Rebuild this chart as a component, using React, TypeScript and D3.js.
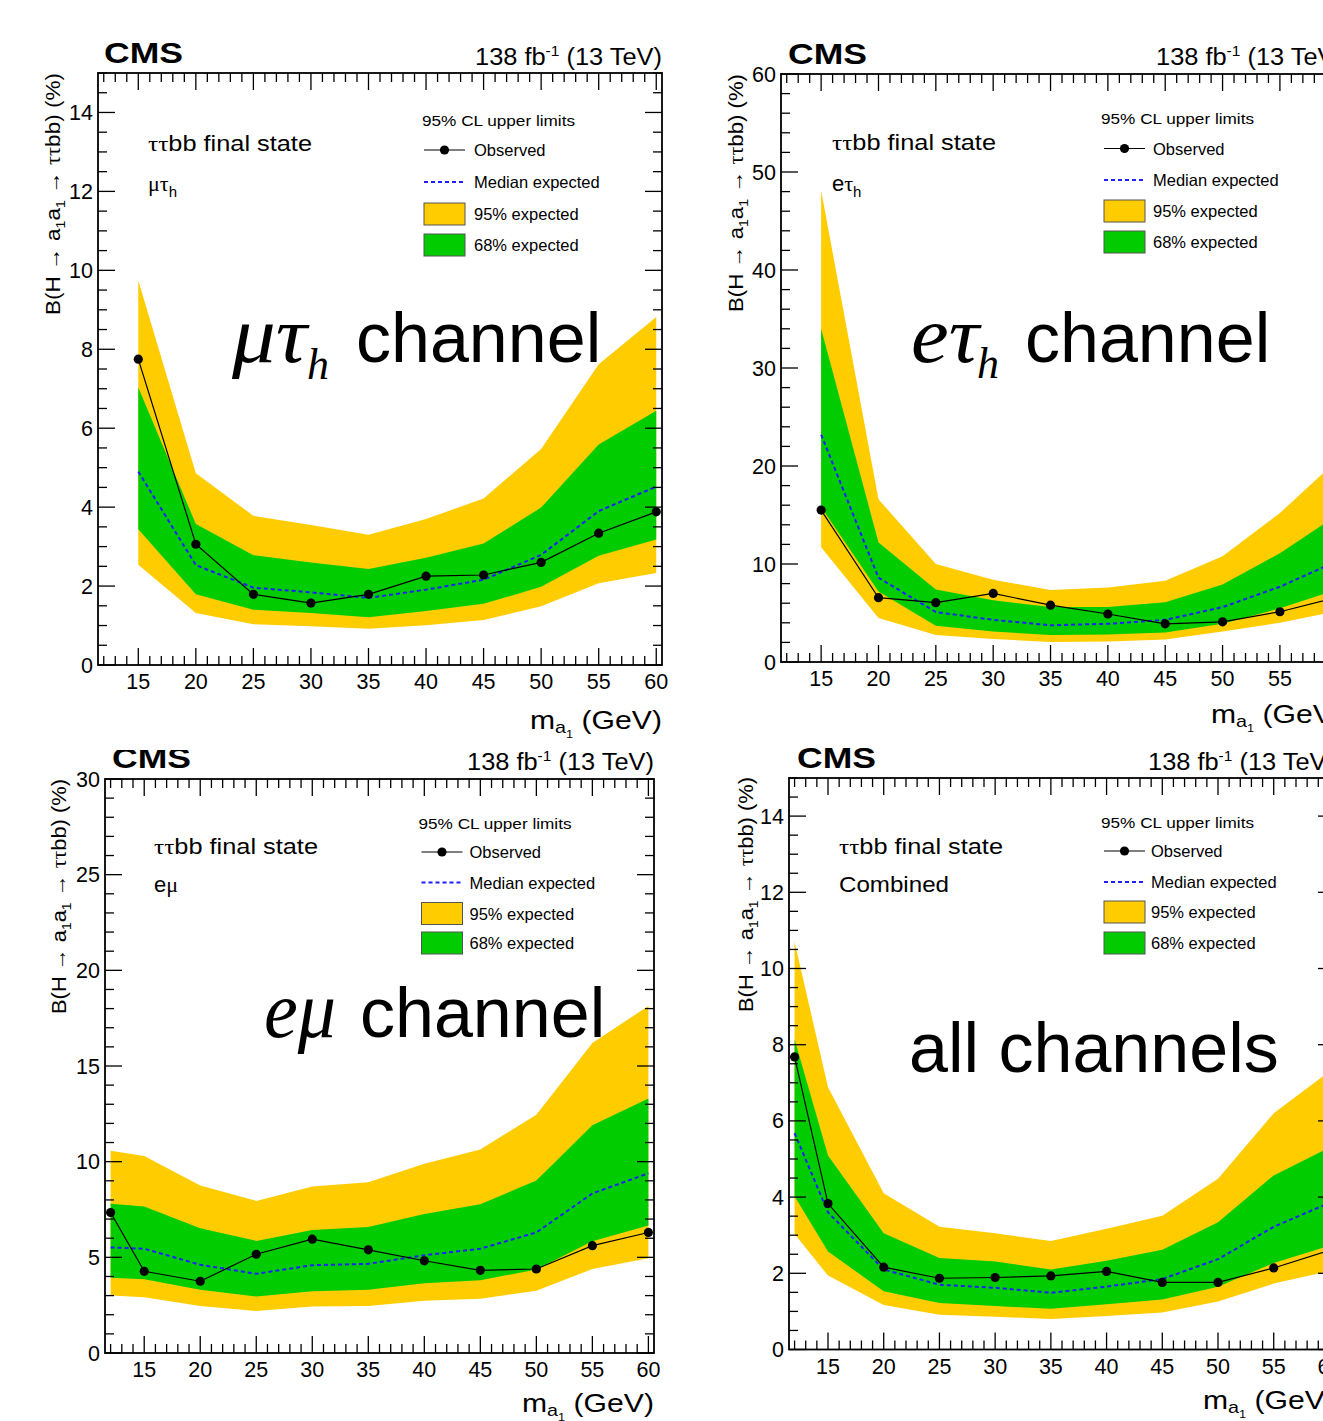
import * as d3 from "d3";
import React from "react";

// mass points (GeV)
const massTauH = [15, 20, 25, 30, 35, 40, 45, 50, 55, 60];
const massLow = [12, 15, 20, 25, 30, 35, 40, 45, 50, 55, 60];

// mu tau_h channel, B (%)
const mtObs = [7.75, 3.06, 1.79, 1.57, 1.79, 2.25, 2.28, 2.6, 3.34, 3.88];
const mtExp = [4.9, 2.53, 1.96, 1.84, 1.7, 1.91, 2.16, 2.79, 3.9, 4.52];
const mt68Lo = [3.44, 1.79, 1.4, 1.32, 1.21, 1.37, 1.55, 1.98, 2.77, 3.18];
const mt68Hi = [7.03, 3.57, 2.78, 2.6, 2.43, 2.72, 3.08, 3.99, 5.59, 6.44];
const mt95Lo = [2.54, 1.32, 1.03, 0.98, 0.92, 1.01, 1.14, 1.49, 2.07, 2.33];
const mt95Hi = [9.74, 4.86, 3.78, 3.55, 3.3, 3.7, 4.22, 5.47, 7.62, 8.82];

// e tau_h channel
const etObs = [15.5, 6.56, 6.05, 7.0, 5.8, 4.9, 3.9, 4.1, 5.13, 6.6];
const etExp = [23.2, 8.6, 5.1, 4.3, 3.75, 3.9, 4.3, 5.6, 7.68, 10.3];
const et68Lo = [15.8, 7.2, 3.7, 3.1, 2.75, 2.8, 3.0, 3.9, 5.48, 7.4];
const et68Hi = [34.0, 12.2, 7.4, 6.3, 5.6, 5.6, 6.1, 7.9, 11.1, 15.0];
const et95Lo = [11.7, 4.5, 2.75, 2.35, 2.05, 2.1, 2.3, 3.1, 4.0, 5.2];
const et95Hi = [48.1, 16.6, 10.0, 8.4, 7.35, 7.6, 8.3, 10.8, 15.2, 20.6];

// e mu channel
const emObs = [7.34, 4.27, 3.75, 5.16, 5.95, 5.39, 4.82, 4.32, 4.39, 5.61, 6.3];
const emExp = [5.52, 5.45, 4.61, 4.14, 4.59, 4.66, 5.11, 5.45, 6.3, 8.34, 9.39];
const em68Lo = [3.93, 3.86, 3.3, 2.95, 3.23, 3.3, 3.64, 3.8, 4.36, 5.84, 6.66];
const em68Hi = [7.8, 7.66, 6.52, 5.86, 6.43, 6.59, 7.27, 7.77, 9.02, 11.9, 13.3];
const em95Lo = [3.0, 2.91, 2.45, 2.2, 2.43, 2.45, 2.73, 2.84, 3.25, 4.39, 4.95];
const em95Hi = [10.57, 10.3, 8.75, 7.95, 8.7, 8.93, 9.89, 10.64, 12.45, 16.2, 18.14];

// combined
const cbObs = [7.68, 3.83, 2.16, 1.87, 1.89, 1.93, 2.05, 1.76, 1.76, 2.14, 2.6];
const cbExp = [5.68, 3.6, 2.1, 1.7, 1.62, 1.49, 1.65, 1.85, 2.37, 3.22, 3.85];
const cb68Lo = [4.02, 2.57, 1.53, 1.22, 1.14, 1.07, 1.19, 1.31, 1.65, 2.27, 2.72];
const cb68Hi = [8.14, 5.09, 3.05, 2.4, 2.31, 2.1, 2.33, 2.62, 3.34, 4.57, 5.3];
const cb95Lo = [3.03, 1.94, 1.17, 0.91, 0.86, 0.8, 0.88, 0.97, 1.26, 1.73, 2.06];
const cb95Hi = [10.7, 6.88, 4.1, 3.22, 3.05, 2.85, 3.17, 3.51, 4.48, 6.2, 7.3];

// tick labels
const xTickLabels = [15, 20, 25, 30, 35, 40, 45, 50, 55, 60];
const yTicks15 = [0, 2, 4, 6, 8, 10, 12, 14];
const yTicks60 = [0, 10, 20, 30, 40, 50, 60];
const yTicks30 = [0, 5, 10, 15, 20, 25, 30];

const legendLabels = ["Observed", "Median expected", "95% expected", "68% expected"];

const YELLOW = "#ffcc00";
const GREEN = "#00cc00";
const SANS = "'Liberation Sans', Arial, Helvetica, sans-serif";
const SERIF = "'Liberation Serif', 'Times New Roman', serif";

const xDomain = [11.5, 60.5];

const panels = [
  {
    key: "mt", mass: massTauH, obs: mtObs, exp: mtExp, lo68: mt68Lo, hi68: mt68Hi, lo95: mt95Lo, hi95: mt95Hi,
    left: 98, right: 662, top: 73, bottom: 665, yMax: 15, yTicks: yTicks15, yMinor: 0.5,
    cms: [104, 63], lumi: 65, ylab: [60, 73, 242], xlab: 729,
    legend: { hx: 422, hy: 125.5, rows: [150, 182, 214, 245], bx: 424, tx: 474 },
    state: [148, 151], sub: [148, 191], subKind: "mt",
    clip: [0, 0, 680, 749],
  },
  {
    key: "et", mass: massTauH, obs: etObs, exp: etExp, lo68: et68Lo, hi68: et68Hi, lo95: et95Lo, hi95: et95Hi,
    left: 781, right: 1343, top: 74, bottom: 662, yMax: 60, yTicks: yTicks60, yMinor: 2,
    cms: [788, 64], lumi: 64.5, ylab: [743, 74, 238], xlab: 722.5,
    legend: { hx: 1101, hy: 123.5, rows: [148.5, 180, 211, 242], bx: 1104, tx: 1153 },
    state: [832, 150], sub: [832, 190.5], subKind: "et",
    clip: [680, 0, 700, 749],
  },
  {
    key: "em", mass: massLow, obs: emObs, exp: emExp, lo68: em68Lo, hi68: em68Hi, lo95: em95Lo, hi95: em95Hi,
    left: 105, right: 654, top: 779, bottom: 1353, yMax: 30, yTicks: yTicks30, yMinor: 1,
    cms: [112, 768], lumi: 770, ylab: [66, 779, 235], xlab: 1412,
    legend: { hx: 418.5, hy: 828.5, rows: [852, 882.5, 913.5, 943], bx: 421.5, tx: 469.5 },
    state: [154, 854], sub: [154, 892], subKind: "em",
    clip: [0, 750, 680, 700],
  },
  {
    key: "cb", mass: massLow, obs: cbObs, exp: cbExp, lo68: cb68Lo, hi68: cb68Hi, lo95: cb95Lo, hi95: cb95Hi,
    left: 789, right: 1335, top: 778, bottom: 1349.5, yMax: 15, yTicks: yTicks15, yMinor: 0.5,
    cms: [797, 768], lumi: 769.5, ylab: [753, 777, 235], xlab: 1409,
    legend: { hx: 1101, hy: 827.5, rows: [851, 882, 912, 943], bx: 1104, tx: 1151 },
    state: [839, 854], sub: [839, 892], subKind: "cb",
    clip: [680, 745, 700, 700],
  },
];

type Cfg = (typeof panels)[number];

function SubLabel({ kind, x, y }: { kind: string; x: number; y: number }) {
  if (kind === "mt")
    return (
      <text x={x} y={y} fontSize={22} fontFamily={SANS}>
        <tspan fontFamily={SERIF}>μτ</tspan>
        <tspan dy={6} fontSize={15}>h</tspan>
      </text>
    );
  if (kind === "et")
    return (
      <text x={x} y={y} fontSize={22} fontFamily={SANS}>
        e<tspan fontFamily={SERIF}>τ</tspan>
        <tspan dy={6} fontSize={15}>h</tspan>
      </text>
    );
  if (kind === "em")
    return (
      <text x={x} y={y} fontSize={22} fontFamily={SANS}>
        e<tspan fontFamily={SERIF}>μ</tspan>
      </text>
    );
  return (
    <text x={x} y={y} fontSize={22} fontFamily={SANS} textLength={110} lengthAdjust="spacingAndGlyphs">
      Combined
    </text>
  );
}

function Panel({ cfg }: { cfg: Cfg }) {
  const x = d3.scaleLinear().domain(xDomain).range([cfg.left, cfg.right]);
  const y = d3.scaleLinear().domain([0, cfg.yMax]).range([cfg.bottom, cfg.top]);

  const pts = cfg.mass.map((m, i) => ({
    m, obs: cfg.obs[i], exp: cfg.exp[i],
    lo68: cfg.lo68[i], hi68: cfg.hi68[i], lo95: cfg.lo95[i], hi95: cfg.hi95[i],
  }));
  type P = (typeof pts)[number];

  const area95 = d3.area<P>().x(d => x(d.m)).y0(d => y(d.lo95)).y1(d => y(d.hi95));
  const area68 = d3.area<P>().x(d => x(d.m)).y0(d => y(d.lo68)).y1(d => y(d.hi68));
  const lineExp = d3.line<P>().x(d => x(d.m)).y(d => y(d.exp));
  const lineObs = d3.line<P>().x(d => x(d.m)).y(d => y(d.obs));

  const xMinor = d3.range(12, 61).filter(v => v % 5 !== 0);
  const yMinor = d3.range(0, cfg.yMax + 1e-6, cfg.yMinor).filter(v => !cfg.yTicks.includes(+v.toFixed(3)));

  const MAJ = 17;
  const MIN = 9;
  const [cx, cy, cw, ch] = cfg.clip;
  const lg = cfg.legend;
  const boxW = 41;

  return (
    <g clipPath={`url(#clip-${cfg.key})`}>
      <clipPath id={`clip-${cfg.key}`}>
        <rect x={cx} y={cy} width={cw} height={ch} />
      </clipPath>

      {/* bands */}
      <path d={area95(pts) || ""} fill={YELLOW} />
      <path d={area68(pts) || ""} fill={GREEN} />
      <path d={lineExp(pts) || ""} fill="none" stroke="#1f1fff" strokeWidth={2} strokeDasharray="4,3" />
      <path d={lineObs(pts) || ""} fill="none" stroke="#000" strokeWidth={1.2} />
      {pts.map(d => (
        <circle key={d.m} cx={x(d.m)} cy={y(d.obs)} r={4.6} fill="#000" />
      ))}

      {/* ticks */}
      <g stroke="#000" strokeWidth={1.3}>
        {xTickLabels.map(v => (
          <g key={"xM" + v}>
            <line x1={x(v)} x2={x(v)} y1={cfg.bottom} y2={cfg.bottom - MAJ} />
            <line x1={x(v)} x2={x(v)} y1={cfg.top} y2={cfg.top + MAJ} />
          </g>
        ))}
        {xMinor.map(v => (
          <g key={"xm" + v}>
            <line x1={x(v)} x2={x(v)} y1={cfg.bottom} y2={cfg.bottom - MIN} />
            <line x1={x(v)} x2={x(v)} y1={cfg.top} y2={cfg.top + MIN} />
          </g>
        ))}
        {cfg.yTicks.map(v => (
          <g key={"yM" + v}>
            <line x1={cfg.left} x2={cfg.left + MAJ} y1={y(v)} y2={y(v)} />
            <line x1={cfg.right} x2={cfg.right - MAJ} y1={y(v)} y2={y(v)} />
          </g>
        ))}
        {yMinor.map(v => (
          <g key={"ym" + v}>
            <line x1={cfg.left} x2={cfg.left + MIN} y1={y(v)} y2={y(v)} />
            <line x1={cfg.right} x2={cfg.right - MIN} y1={y(v)} y2={y(v)} />
          </g>
        ))}
      </g>
      <rect x={cfg.left} y={cfg.top} width={cfg.right - cfg.left} height={cfg.bottom - cfg.top}
        fill="none" stroke="#000" strokeWidth={1.8} />

      {/* tick labels */}
      <g fontFamily={SANS} fontSize={21.5} fill="#000">
        {xTickLabels.map(v => (
          <text key={"xl" + v} x={x(v)} y={cfg.bottom + 24} textAnchor="middle">{v}</text>
        ))}
        {cfg.yTicks.map(v => (
          <text key={"yl" + v} x={cfg.left - 5} y={y(v) + 7.5} textAnchor="end">{v}</text>
        ))}
      </g>

      {/* axis titles */}
      <text x={cfg.right} y={cfg.xlab} textAnchor="end" fontFamily={SANS} fontSize={26}
        textLength={132} lengthAdjust="spacingAndGlyphs">
        m<tspan dy={4} fontSize={17}>a</tspan><tspan dy={5} fontSize={11}>1</tspan>
        <tspan dy={-9} fontSize={26}> (GeV)</tspan>
      </text>
      <text transform={`translate(${cfg.ylab[0]},${cfg.ylab[1]}) rotate(-90)`} textAnchor="end"
        fontFamily={SANS} fontSize={20.5} textLength={cfg.ylab[2]} lengthAdjust="spacingAndGlyphs">
        B(H → a<tspan dy={5} fontSize={13}>1</tspan><tspan dy={-5}>a</tspan>
        <tspan dy={5} fontSize={13}>1</tspan><tspan dy={-5}> → </tspan>
        <tspan fontFamily={SERIF}>ττ</tspan>bb) (%)
      </text>

      {/* header */}
      <text x={cfg.cms[0]} y={cfg.cms[1]} fontFamily={SANS} fontWeight="bold" fontSize={30}
        textLength={79} lengthAdjust="spacingAndGlyphs">CMS</text>
      <text x={cfg.right} y={cfg.lumi} textAnchor="end" fontFamily={SANS} fontSize={23}
        textLength={187} lengthAdjust="spacingAndGlyphs">
        138 fb<tspan dy={-9} fontSize={14}>-1</tspan><tspan dy={9} fontSize={23}> (13 TeV)</tspan>
      </text>

      {/* annotations */}
      <text x={cfg.state[0]} y={cfg.state[1]} fontFamily={SANS} fontSize={22}
        textLength={164} lengthAdjust="spacingAndGlyphs">
        <tspan fontFamily={SERIF}>ττ</tspan>bb final state
      </text>
      <SubLabel kind={cfg.subKind} x={cfg.sub[0]} y={cfg.sub[1]} />

      {/* legend */}
      <g fontFamily={SANS} fill="#000">
        <text x={lg.hx} y={lg.hy} fontSize={15.5} textLength={153} lengthAdjust="spacingAndGlyphs">
          95% CL upper limits
        </text>
        <line x1={lg.bx} x2={lg.bx + boxW} y1={lg.rows[0]} y2={lg.rows[0]} stroke="#000" strokeWidth={1.2} />
        <circle cx={lg.bx + boxW / 2} cy={lg.rows[0]} r={4.6} fill="#000" />
        <line x1={lg.bx} x2={lg.bx + boxW} y1={lg.rows[1]} y2={lg.rows[1]} stroke="#1f1fff" strokeWidth={2}
          strokeDasharray="4,3" />
        <rect x={lg.bx} y={lg.rows[2] - 11} width={boxW} height={22} fill={YELLOW} stroke="#555" strokeWidth={1} />
        <rect x={lg.bx} y={lg.rows[3] - 11} width={boxW} height={22} fill={GREEN} stroke="#555" strokeWidth={1} />
        {legendLabels.map((t, i) => (
          <text key={t} x={lg.tx} y={lg.rows[i] + 6} fontSize={16.5}>{t}</text>
        ))}
      </g>
    </g>
  );
}

function ChannelTitles() {
  return (
    <g fill="#000">
      {/* mu tau_h */}
      <text x={232} y={362} fontFamily={SERIF} fontStyle="italic" fontSize={80} textLength={75}
        lengthAdjust="spacingAndGlyphs">μτ</text>
      <text x={307} y={379} fontFamily={SERIF} fontStyle="italic" fontSize={44}>h</text>
      <text x={356} y={362} fontFamily={SANS} fontSize={70}>channel</text>

      {/* e tau_h */}
      <text x={911} y={361.5} fontFamily={SERIF} fontStyle="italic" fontSize={80} textLength={68}
        lengthAdjust="spacingAndGlyphs">eτ</text>
      <text x={977} y={378} fontFamily={SERIF} fontStyle="italic" fontSize={44}>h</text>
      <text x={1025} y={361.5} fontFamily={SANS} fontSize={70}>channel</text>

      {/* e mu */}
      <text x={264} y={1037} fontFamily={SERIF} fontStyle="italic" fontSize={80} textLength={72}
        lengthAdjust="spacingAndGlyphs">eμ</text>
      <text x={360} y={1037} fontFamily={SANS} fontSize={70}>channel</text>

      {/* combined */}
      <text x={909} y={1072} fontFamily={SANS} fontSize={70}>all channels</text>
    </g>
  );
}

export default function App() {
  return (
    <svg width={1323} height={1421} style={{ position: "absolute", left: 0, top: 0, background: "#fff" }}>
      <rect width={1323} height={1421} fill="#fff" />
      {panels.map(p => (
        <Panel key={p.key} cfg={p} />
      ))}
      <ChannelTitles />
    </svg>
  );
}
